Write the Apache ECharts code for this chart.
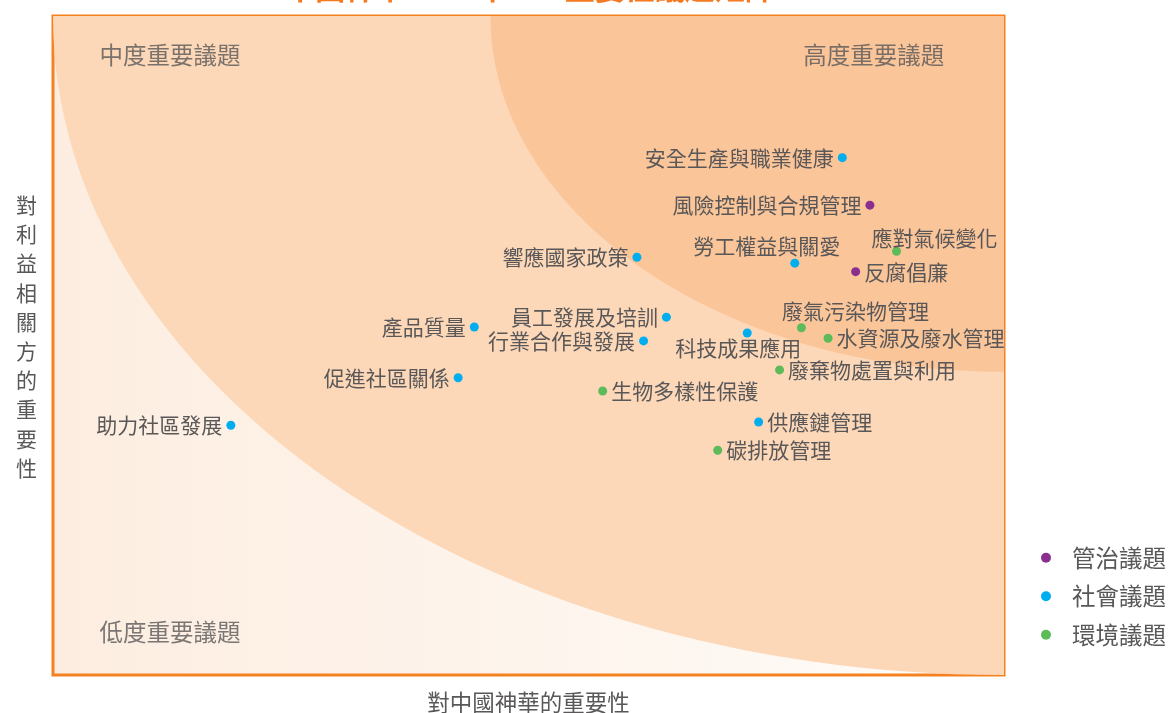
<!DOCTYPE html>
<html>
<head>
<meta charset="utf-8">
<script src="https://cdn.jsdelivr.net/npm/echarts@6/dist/echarts.min.js"></script>
<style>
  html, body { margin: 0; background: #fff; }
  #chart { width: 1168px; height: 713px; }
</style>
</head>
<body>
<div id="chart"></div>
<script>
// 議題資料 (0-100 分)
const issueNames = [
  '安全生產與職業健康', '風險控制與合規管理', '應對氣候變化', '勞工權益與關愛',
  '反腐倡廉', '響應國家政策', '員工發展及培訓', '行業合作與發展',
  '科技成果應用', '廢氣污染物管理', '水資源及廢水管理', '廢棄物處置與利用',
  '生物多樣性保護', '產品質量', '促進社區關係', '供應鏈管理',
  '碳排放管理', '助力社區發展'
];
const issueX = [83.0, 85.9, 88.7, 78.0, 84.4, 61.4, 64.5, 62.1, 73.0, 78.7, 81.5, 76.4, 57.8, 44.3, 42.6, 74.2, 69.9, 18.7];
const issueY = [78.5, 71.3, 64.3, 62.5, 61.2, 63.4, 54.3, 50.7, 51.9, 52.7, 51.1, 46.3, 43.1, 52.8, 45.1, 38.4, 34.1, 37.9];
// 0 管治 / 1 社會 / 2 環境
const issueGroup = [1, 0, 2, 1, 0, 1, 1, 1, 1, 2, 2, 2, 2, 1, 1, 1, 2, 1];

const groupNames = ['管治議題', '社會議題', '環境議題'];
const groupColors = ['#8a2f8f', '#00aeef', '#5dbb5a'];

// 背景分區：以右上角為圓心的四分之一橢圓，半徑以軸單位計
const zoneRadius = [100, 54];
const zoneColors = ['#fcd8b9', '#fbc59a'];

const zoneNames = ['中度重要議題', '高度重要議題', '低度重要議題'];

const FONT = '"Noto Sans CJK TC", "Noto Sans CJK SC", sans-serif';
const TEXT = '#595757';

// 標籤擺放 (預設在點左側)
const labelPlace = {
  '反腐倡廉': { position: 'right' },
  '水資源及廢水管理': { position: 'right' },
  '廢棄物處置與利用': { position: 'right' },
  '生物多樣性保護': { position: 'right' },
  '供應鏈管理': { position: 'right' },
  '碳排放管理': { position: 'right' },
  '應對氣候變化': { position: 'top', distance: 2, offset: [38, 4] },
  '勞工權益與關愛': { position: 'top', distance: 2, offset: [-28, 0] },
  '廢氣污染物管理': { position: 'top', distance: 2, offset: [54, 0] },
  '科技成果應用': { position: 'bottom', distance: 2, offset: [-9, -2] }
};
const zonePlace = [[12.3, 94.1], [86.3, 94.1], [12.3, 6.5]];

// 縱軸名稱直排，尾端加一行空白把整段往上推
const yName = '對利益相關方的重要性'.split('').map((c) => '{a|' + c + '}').join('\n') + '\n{b| }';

const chart = echarts.init(document.getElementById('chart'));

const issueSeries = groupNames.map((g, gi) => ({
  name: g,
  type: 'scatter',
  symbolSize: 9,
  itemStyle: { color: groupColors[gi], opacity: 1 },
  z: 5,
  label: {
    show: true,
    formatter: '{b}',
    position: 'left',
    distance: 4,
    color: TEXT,
    fontSize: 21,
    fontFamily: FONT
  },
  data: issueNames
    .map((n, i) => ({ n, i }))
    .filter((d) => issueGroup[d.i] === gi)
    .map((d) => ({
      name: d.n,
      value: [issueX[d.i], issueY[d.i]],
      label: labelPlace[d.n] || {}
    }))
}));

const option = {
  animation: false,
  title: {
    text: '中國神華2023年ESG重要性議題矩陣',
    left: 530,
    textAlign: 'center',
    top: -27,
    padding: 0,
    textStyle: { color: '#f47920', fontSize: 30, fontWeight: 'bold', fontFamily: FONT }
  },
  grid: {
    left: 53, right: 164, top: 16, bottom: 38,
    containLabel: false,
    outerBoundsMode: 'none',
    show: true,
    borderColor: '#f58220',
    borderWidth: 3,
    backgroundColor: new echarts.graphic.LinearGradient(0, 0, 1, 0, [
      { offset: 0, color: '#fdede0' },
      { offset: 1, color: '#fefcf9' }
    ])
  },
  legend: {
    data: groupNames,
    orient: 'vertical',
    left: 1036,
    top: 541,
    itemWidth: 10,
    itemHeight: 10,
    itemGap: 15,
    icon: 'circle',
    textStyle: { color: TEXT, fontSize: 23.5, fontFamily: FONT, padding: [0, 0, 0, 16] }
  },
  xAxis: {
    type: 'value', min: 0, max: 100,
    axisLine: { show: false }, axisTick: { show: false },
    axisLabel: { show: false }, splitLine: { show: false },
    name: '對中國神華的重要性',
    nameLocation: 'middle',
    nameGap: 16,
    nameTextStyle: { color: TEXT, fontSize: 22.5, fontFamily: FONT }
  },
  yAxis: {
    type: 'value', min: 0, max: 100,
    axisLine: { show: false }, axisTick: { show: false },
    axisLabel: { show: false }, splitLine: { show: false },
    name: yName,
    nameLocation: 'middle',
    nameRotate: 0,
    nameGap: 16,
    nameTextStyle: {
      color: TEXT, fontFamily: FONT,
      rich: {
        a: { fontSize: 21, lineHeight: 29.2, color: TEXT, fontFamily: FONT },
        b: { fontSize: 1, lineHeight: 18 }
      }
    }
  },
  series: [
    {
      type: 'custom',
      clip: true,
      silent: true,
      z: 1,
      data: zoneRadius.map((r) => [100, 100, r]),
      encode: { x: 0, y: 1 },
      renderItem: (params, api) => {
        const c = api.coord([api.value(0), api.value(1)]);
        const s = api.size([api.value(2), api.value(2)]);
        return {
          type: 'ellipse',
          shape: { cx: c[0], cy: c[1], rx: s[0], ry: s[1] },
          style: { fill: zoneColors[params.dataIndex] }
        };
      }
    },
    {
      type: 'scatter',
      silent: true,
      symbolSize: 0,
      z: 4,
      label: {
        show: true,
        position: 'inside',
        formatter: '{b}',
        color: TEXT,
        fontSize: 23.5,
        fontFamily: FONT
      },
      data: zoneNames.map((n, i) => ({ name: n, value: zonePlace[i] }))
    },
    ...issueSeries
  ]
};

chart.setOption(option);
</script>
</body>
</html>
